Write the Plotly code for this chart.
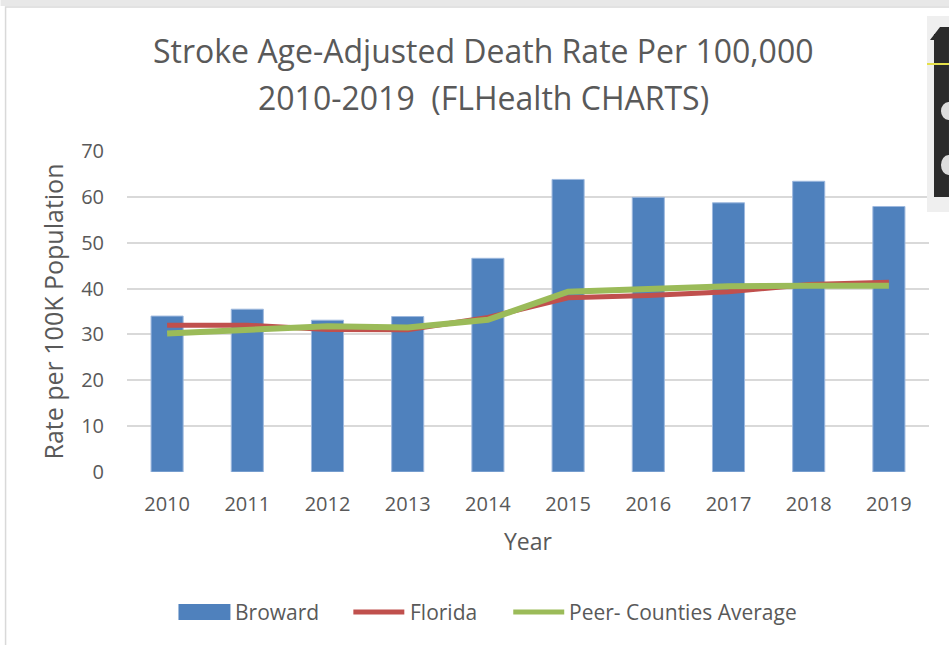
import plotly.graph_objects as go

years = ["2010", "2011", "2012", "2013", "2014", "2015", "2016", "2017", "2018", "2019"]
broward = [34.0, 35.5, 33.1, 33.9, 46.6, 63.8, 59.9, 58.7, 63.4, 57.9]
florida = [32.0, 32.0, 31.1, 31.0, 33.7, 38.0, 38.5, 39.3, 40.9, 41.4]
peer_avg = [30.2, 30.9, 31.8, 31.5, 33.2, 39.3, 40.0, 40.5, 40.6, 40.6]
y_ticks = [0, 10, 20, 30, 40, 50, 60, 70]

title_line1 = "Stroke Age-Adjusted Death Rate Per 100,000"
title_line2 = "2010-2019  (FLHealth CHARTS)"
series_names = ["Broward", "Florida", "Peer- Counties Average"]
colors = ["#4F81BD", "#C0504D", "#9BBB59"]

FONT = "Open Sans"
GREY = "#595959"

W, H = 949, 645
L, R, T, B = 126.5, 929.0, 151.0, 472.0


def px_x(x):
    return (x - L) / (R - L)


def px_y(y):
    return (B - y) / (B - T)


fig = go.Figure()
fig.add_trace(go.Bar(x=years, y=broward, name=series_names[0],
                     marker=dict(color=colors[0], line=dict(color="#9DB8DE", width=1))))
fig.add_trace(go.Scatter(x=years, y=florida, name=series_names[1], mode="lines",
                         line=dict(color=colors[1], width=5)))
fig.add_trace(go.Scatter(x=years, y=peer_avg, name=series_names[2], mode="lines",
                         line=dict(color=colors[2], width=6)))

annotations = [
    dict(text=title_line1, x=px_x(482.5), y=px_y(50), xref="paper", yref="paper",
         showarrow=False, xanchor="center", yanchor="middle",
         font=dict(family=FONT, size=32, color=GREY)),
    dict(text=title_line2, x=px_x(483.5), y=px_y(97), xref="paper", yref="paper",
         showarrow=False, xanchor="center", yanchor="middle",
         font=dict(family=FONT, size=32, color=GREY)),
]

shapes = [
    # chart border
    dict(type="rect", xref="paper", yref="paper", x0=px_x(5), x1=px_x(960),
         y0=px_y(660), y1=px_y(7), line=dict(color="#D9D9D9", width=1.5),
         fillcolor="rgba(0,0,0,0)", layer="below"),
    # top grey band
    dict(type="rect", xref="paper", yref="paper", x0=px_x(0), x1=px_x(949),
         y0=px_y(6), y1=px_y(0), line=dict(width=0), fillcolor="#E8E8E8"),
    # icon strip on the right
    dict(type="rect", xref="paper", yref="paper", x0=px_x(927), x1=px_x(949),
         y0=px_y(212), y1=px_y(16), line=dict(width=0), fillcolor="#EFEFEF"),
    dict(type="rect", xref="paper", yref="paper", x0=px_x(934), x1=px_x(949),
         y0=px_y(197), y1=px_y(34), line=dict(width=0), fillcolor="#2B2B2B"),
    dict(type="path", xref="paper", yref="paper",
         path="M %f,%f L %f,%f L %f,%f L %f,%f Z" % (px_x(930), px_y(40), px_x(940), px_y(27),
                                                     px_x(949), px_y(27), px_x(949), px_y(40)),
         line=dict(width=0), fillcolor="#2B2B2B"),
    dict(type="line", xref="paper", yref="paper", x0=px_x(927), x1=px_x(949),
         y0=px_y(64), y1=px_y(64), line=dict(color="#E5E04A", width=2)),
    dict(type="circle", xref="paper", yref="paper", x0=px_x(941), x1=px_x(956),
         y0=px_y(120), y1=px_y(102), line=dict(width=0), fillcolor="#DDDDDD"),
    dict(type="circle", xref="paper", yref="paper", x0=px_x(941), x1=px_x(956),
         y0=px_y(175), y1=px_y(155), line=dict(width=0), fillcolor="#DDDDDD"),
]

# custom legend (wide swatches, like the reference)
legend_y = px_y(612)
shapes.append(dict(type="rect", xref="paper", yref="paper", x0=px_x(178), x1=px_x(230),
                   y0=px_y(620), y1=px_y(604), line=dict(width=0), fillcolor=colors[0]))
shapes.append(dict(type="line", xref="paper", yref="paper", x0=px_x(353), x1=px_x(404),
                   y0=legend_y, y1=legend_y, line=dict(color=colors[1], width=5)))
shapes.append(dict(type="line", xref="paper", yref="paper", x0=px_x(513), x1=px_x(564),
                   y0=legend_y, y1=legend_y, line=dict(color=colors[2], width=5)))
for name, xpos in zip(series_names, [233, 408, 567]):
    annotations.append(dict(text=name, x=px_x(xpos), y=legend_y, xref="paper", yref="paper",
                            showarrow=False, xanchor="left", yanchor="middle",
                            font=dict(family=FONT, size=21, color=GREY)))

fig.update_layout(
    width=W, height=H,
    margin=dict(l=L, r=W - R, t=T, b=H - B, autoexpand=False),
    paper_bgcolor="white", plot_bgcolor="white",
    font=dict(family=FONT, color=GREY),
    bargap=0.6,
    showlegend=False,
    annotations=annotations,
    shapes=shapes,
)
fig.update_xaxes(type="category", showgrid=False, showline=False, zeroline=False,
                 tickfont=dict(family=FONT, size=20, color=GREY), ticks="", ticklabelstandoff=18,
                 title=dict(text="Year", font=dict(family=FONT, size=23, color=GREY), standoff=17))
fig.update_yaxes(range=[0, 70], tickvals=y_ticks, showgrid=True, gridcolor="#D9D9D9", gridwidth=1.5,
                 zeroline=False, showline=False, ticks="",
                 tickfont=dict(family=FONT, size=20, color=GREY), ticklabelstandoff=22,
                 title=dict(text="Rate per 100K Population", font=dict(family=FONT, size=25, color=GREY),
                            standoff=10))

fig.write_html("out.html", config={"displayModeBar": False},
               post_script="document.body.style.margin='0';")
